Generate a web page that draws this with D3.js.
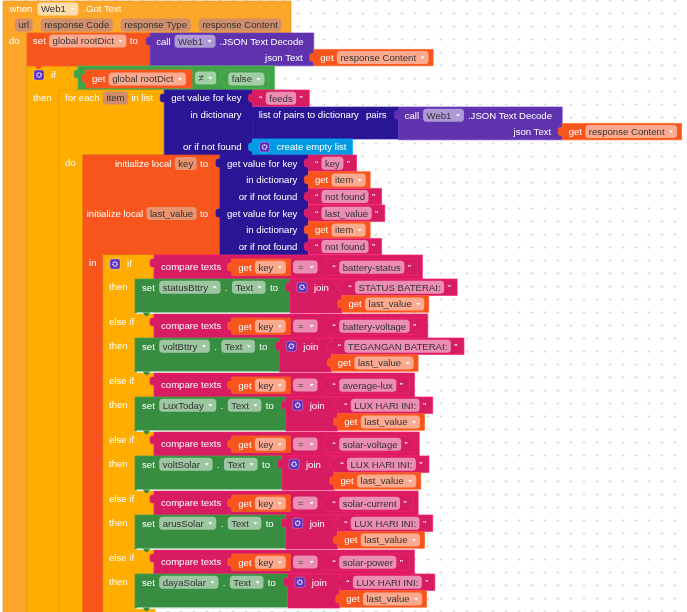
<!DOCTYPE html>
<html>
<head>
<meta charset="utf-8">
<script src="https://cdn.jsdelivr.net/npm/d3@7"></script>
<style>
html, body { margin: 0; padding: 0; background: #fff; overflow: hidden; }
text { font-family: "Liberation Sans", Arial, sans-serif; font-size: 9.6px; }
</style>
</head>
<body>
<div id="blocks"></div>
<script>
"use strict";

const component = 'Web1';
const eventParams = ['url', 'response Code', 'response Type', 'response Content'];
const branchKeys = ['battery-status', 'battery-voltage', 'average-lux', 'solar-voltage', 'solar-current', 'solar-power'];
const branchTargets = ['statusBttry', 'voltBttry', 'LuxToday', 'voltSolar', 'arusSolar', 'dayaSolar'];
const branchLabels = ['STATUS BATERAI:', 'TEGANGAN BATERAI:', 'LUX HARI INI:', 'LUX HARI INI:', 'LUX HARI INI:', 'LUX HARI INI:'];
const localNames = ['key', 'last_value'];

const width = 687;
const height = 612;
const colors = {
    event: '#fda729', control: '#ffad00', variable: '#f8541f', call: '#5e33ae',
    dict: '#2b1795', list: '#049ae2', text: '#d71c62', logic: '#43a148', set: '#388e41'
};
const gap = 3.3;
const rowH = 16.4;

const svg = d3.select('#blocks')
    .append('svg')
    .attr('width', width)
    .attr('height', height)
    .style('display', 'block');

svg.append('filter').attr('id', 'soft')
    .append('feGaussianBlur').attr('stdDeviation', 0.28);

// the workspace dot grid
const gridX = d3.range(12, width, 13);
const gridY = d3.range(0, height, 13);
const grid = svg.append('g').attr('stroke', '#dedede').attr('stroke-width', 1);
gridX.forEach(x => {
    grid.selectAll(null).data(gridY).join('path')
        .attr('d', y => `M${x - 1.5},${y + 0.5}h3M${x},${y - 1}v3`);
});

const sheet = svg.append('g').attr('filter', 'url(#soft)');
const layer = sheet.append('g');
const topLayer = sheet.append('g');
const ctx = document.createElement('canvas').getContext('2d');
ctx.font = '9.6px "Liberation Sans"';
const tw = s => ctx.measureText(s).width;

const pillW = f => tw(f.p) + (f.a ? 16 : 7) + (f.pad || 0) * 2;
const itemW = f => (typeof f === 'string' ? tw(f) : f.icon ? 10 : pillW(f));
const inlineW = (items, g = gap) => d3.sum(items, itemW) + g * (items.length - 1);

function label(x, cy, s, anchor) {
    layer.append('text')
        .attr('x', x).attr('y', cy).attr('dy', '.35em')
        .attr('text-anchor', anchor || 'start')
        .attr('fill', '#fff').text(s);
}

function pill(x, cy, f) {
    const w = pillW(f);
    const base = layer.append('rect')
        .attr('x', x).attr('y', cy - 6.5).attr('width', w).attr('height', 13).attr('rx', 3.5);
    if (f.dim) {
        base.attr('fill', f.dim);
    } else {
        base.attr('fill', '#fff').attr('fill-opacity', f.light ? 0.62 : 0.5);
    }
    layer.append('text')
        .attr('x', x + 3.5 + (f.pad || 0)).attr('y', cy).attr('dy', '.35em')
        .attr('fill', '#333').text(f.p);
    if (f.a) {
        layer.append('path')
            .attr('d', `M${x + w - 8},${cy - 1}h4l-2,2.5z`)
            .attr('fill', '#fff');
    }
    return w;
}

function icon(x, cy) {
    layer.append('rect')
        .attr('x', x).attr('y', cy - 5).attr('width', 10).attr('height', 10).attr('rx', 2)
        .attr('fill', '#5b2dc0').attr('stroke', '#fff').attr('stroke-opacity', 0.45).attr('stroke-width', 0.6);
    layer.append('circle')
        .attr('cx', x + 5).attr('cy', cy).attr('r', 2.2)
        .attr('fill', 'none').attr('stroke', '#fff').attr('stroke-width', 1.3)
        .attr('stroke-dasharray', '1.2 .5');
    return 10;
}

function inline(x, cy, items, g = gap) {
    items.forEach(f => {
        if (typeof f === 'string') {
            label(x, cy, f);
        } else if (f.icon) {
            icon(x, cy);
        } else {
            pill(x, cy, f);
        }
        x += itemW(f) + g;
    });
    return x - g;
}

// plain block, with the puzzle tab on its left edge for value blocks
function block(x, y, w, h, color, tab) {
    const tabPath = tab
        ? `V${y + 12}h-1.5q-2.5,0 -2.5,-2v-4q0,-2 2.5,-2h1.5`
        : '';
    layer.append('path')
        .attr('d', `M${x},${y}H${x + w}V${y + h}H${x}${tabPath}Z`)
        .attr('fill', color)
        .attr('stroke', d3.color(color).brighter(0.45))
        .attr('stroke-width', 0.7);
}

// block with a statement arm running off the bottom of the page
function armBlock(x, y, headW, headH, armW, color) {
    layer.append('path')
        .attr('d', `M${x},${y}H${x + headW}V${y + headH}H${x + armW}V${height + 20}H${x}Z`)
        .attr('fill', color)
        .attr('stroke', d3.color(color).darker(0.25))
        .attr('stroke-width', 0.7);
}

function bump(x, y, color) {
    topLayer.append('path')
        .attr('d', `M${x + 8},${y - 0.5}l1.5,2.5q2,2.5 4,0l1.5,-2.5z`)
        .attr('fill', color);
}

const getPad = 11;

function getBlock(x, y, name) {
    const items = ['get', {p: name, a: true}];
    const w = inlineW(items) + getPad;
    block(x, y, w, rowH, colors.variable, true);
    inline(x + 6.5, y + rowH / 2, items);
    return x + w;
}

const quoted = s => ['\u201c', {p: s}, '\u201d'];

function textBlock(x, y, s) {
    const items = quoted(s);
    const w = inlineW(items, 3.4) + 13;
    block(x, y, w, rowH, colors.text, true);
    inline(x + 6.5, y + rowH / 2, items, 3.4);
    return x + w;
}

function callBlock(x, y) {
    const head = ['call', {p: component, a: true}, '.JSON Text Decode'];
    const socket = x + inlineW(head, 4) + 16;
    block(x, y, socket - x, rowH * 2, colors.call, true);
    inline(x + 6, y + rowH / 2, head, 4);
    label(socket - 11, y + rowH * 1.5, 'json Text', 'end');
    getBlock(socket, y + rowH, eventParams[3]);
}

function getValueBlock(x, y, h, rowMid) {
    const w = tw('get value for key') + 18;
    block(x, y, w, h, colors.dict, true);
    label(x + w - 11, rowMid[0], 'get value for key', 'end');
    label(x + w - 11, rowMid[1], 'in dictionary', 'end');
    label(x + w - 11, rowMid[2], 'or if not found', 'end');
    return x + w;
}

function branch(i, top) {
    const compareH = 24;
    const setH = 35;
    const armX = 103;
    const armW = 32;
    const cmpX = 154;

    // yellow head of the if / else if row
    layer.append('rect')
        .attr('x', armX + armW - 1).attr('y', top).attr('width', cmpX - armX - armW + 1).attr('height', compareH)
        .attr('fill', colors.control);

    const cy = top + compareH / 2 + 1;
    const titleEnd = cmpX + 7 + tw('compare texts');
    const getX = titleEnd + 10.5;
    const getItems = ['get', {p: localNames[0], a: true}];
    const getW = inlineW(getItems) + getPad;
    const eqX = getX + getW + 2.7;
    const eq = {p: '=', a: true, pad: 1.5};
    const textX = eqX + pillW(eq) + 8.5;
    const textItems = quoted(branchKeys[i]);
    const textW = inlineW(textItems, 3.4) + 13;

    block(cmpX, top, textX + textW + 5 - cmpX, compareH, colors.text, true);
    label(cmpX + 7, cy - 1, 'compare texts');
    getBlock(getX, top + 4, localNames[0]);
    pill(eqX, cy - 1, eq);
    block(textX, top + 4, textW, rowH, colors.text, true);
    inline(textX + 6.5, top + 4 + rowH / 2, textItems, 3.4);

    // set X.Text to join(label, last_value)
    const setTop = top + compareH;
    const setX = armX + armW;
    const setItems = ['set', {p: branchTargets[i], a: true}, '.', {p: 'Text', a: true}, 'to'];
    const joinX = setX + 7 + inlineW(setItems, 4.4) + 12;
    const joinItems = [{icon: true}, 'join'];
    const partX = joinX + 7 + inlineW(joinItems, 7) + 13;

    block(setX, setTop, joinX - setX, setH - 1, colors.set, false);
    inline(setX + 7, setTop + rowH / 2, setItems, 4.4);
    block(joinX, setTop, partX - joinX, setH - 1, colors.text, true);
    inline(joinX + 7, setTop + rowH / 2, joinItems, 7);
    textBlock(partX, setTop, branchLabels[i]);
    getBlock(partX, setTop + rowH + 0.4, localNames[1]);

    // white edge and notch under the set block
    topLayer.append('path')
        .attr('d', `M${setX + 2},${setTop + setH - 1}H${joinX}`)
        .attr('stroke', '#fff').attr('stroke-width', 1.2);
    bump(setX, setTop + setH - 1, colors.set);
}

// when Web1.Got Text
const dimFill = '#cf8e6c';
const paramItems = eventParams.map(p => ({p, dim: dimFill}));
const eventX = 3;
const paramsX = 15;
const paramGap = 8;
const paramsW = d3.sum(paramItems, pillW) + paramGap * (paramItems.length - 1);
armBlock(eventX, 1, 288, 32, 24, colors.event);
inline(eventX + 6.5, 9, ['when', {p: component, a: true, light: true}, '.Got Text'], 5);
let px = paramsX;
paramItems.forEach(f => { px += pill(px, 25, f) + paramGap; });
label(eventX + 6, 41, 'do');

// if global rootDict != false
armBlock(27, 66, 51, 24, 32, colors.control);
icon(34, 75);
label(51, 75, 'if');
label(33, 98, 'then');

// set global rootDict to call
const setItems = ['set', {p: 'global rootDict', a: true}, 'to'];
const callX = 27 + 6 + inlineW(setItems) + 12.5;
block(27, 33, callX - 27, 33, colors.variable, false);
inline(33, 41, setItems);
callBlock(callX, 33);
bump(27, 66, colors.variable);

// condition
const condItems = ['get', {p: 'global rootDict', a: true}];
const condGetX = 86;
const condGetW = inlineW(condItems) + 12;
const neq = {p: '\u2260', a: true};
const neqX = condGetX + condGetW + 3;
const falseX = neqX + pillW(neq) + 8;
const falseItem = [{p: 'false', a: true}];
const falseW = inlineW(falseItem) + 8;
block(78, 66, falseX + falseW + 6 - 78, 24, colors.logic, true);
block(condGetX, 70, condGetW, 18, colors.variable, true);
inline(condGetX + 6, 79, condItems);
pill(neqX, 78, neq);
block(falseX, 70, falseW, 18, colors.logic, true);
inline(falseX + 4, 79, falseItem);

// for each item in list
const forItems = ['for each', {p: 'item', dim: dimFill}, 'in list'];
const forW = inlineW(forItems) + 17;
armBlock(59, 90, forW, 65, 24, colors.control);
inline(65, 98, forItems);
label(65, 163, 'do');
bump(59, 90, colors.control);

const dictX = 59 + forW;
const dictEnd = getValueBlock(dictX, 90, 65, [98, 115, 147]);
textBlock(dictEnd, 90, 'feeds');

// list of pairs to dictionary
const pairsItems = ['list of pairs to dictionary', 'pairs'];
const pairsX = dictEnd;
const pairsCall = pairsX + 6 + inlineW(pairsItems, 7) + 12;
block(pairsX, 107, pairsCall - pairsX, 32, colors.dict, true);
inline(pairsX + 6, 115, pairsItems, 7);
callBlock(pairsCall, 107);

// create empty list
const emptyItems = [{icon: true}, 'create empty list'];
const emptyW = inlineW(emptyItems, 7) + 13;
block(pairsX, 139, emptyW, 16, colors.list, true);
inline(pairsX + 7, 147, emptyItems, 7);

// initialize local
const localX = 83;
const localRight = 220;
const localDim = '#e9936f';
armBlock(localX, 155, localRight - localX, 100, 20, colors.variable);
const localRowY = d3.scaleLinear().domain([0, 1]).range([155, 205]);
localNames.forEach((name, i) => {
    const top = localRowY(i);
    const items = ['initialize local', {p: name, dim: localDim}, 'to'];
    inline(localRight - 12 - inlineW(items), top + 8.5, items);
    const end = getValueBlock(localRight, top, 50, [top + 8.5, top + 25, top + 42]);
    textBlock(end, top, name);
    getBlock(end, top + 16.7, 'item');
    textBlock(end, top + 33.4, 'not found');
});
label(89, 263, 'in');

// if / else if chain
armBlock(103, 255, 51, 24, 32, colors.control);
const branchTop = d3.scaleLinear().domain([0, 5]).range([255, 550]);
branchKeys.forEach((k, i) => branch(i, branchTop(i)));
branchKeys.forEach((k, i) => {
    const top = branchTop(i);
    label(109, top + 8 + 24, 'then');
    if (i > 0) label(109, top + 8, 'else if');
});
icon(110, 264);
label(127, 264, 'if');

// end of the if chain below the last set block
layer.append('rect')
    .attr('x', 134).attr('y', branchTop(5) + 59).attr('width', 21).attr('height', 10)
    .attr('fill', colors.control);
</script>
</body>
</html>
